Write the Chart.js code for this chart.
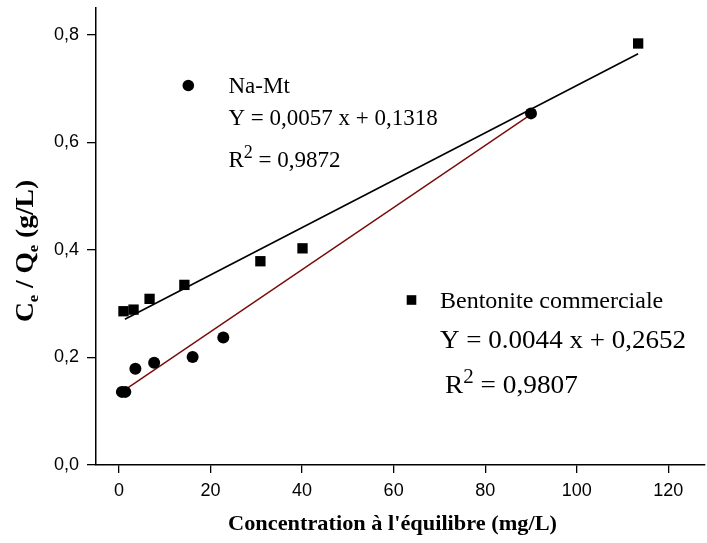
<!DOCTYPE html>
<html>
<head>
<meta charset="utf-8">
<script src="https://cdn.jsdelivr.net/npm/chart.js@4.4.1/dist/chart.umd.min.js"></script>
<style>
  html, body { margin: 0; padding: 0; background: #ffffff; overflow: hidden; }
  #wrap { width: 707px; height: 543px; position: relative; overflow: hidden; }
  #c { display: block; }
</style>
</head>
<body>
<div id="wrap"><canvas id="c"></canvas></div>
<script>
// ---- data ----
const naMtX = [0.65, 1.4, 3.6, 7.7, 16.1, 22.8, 90.0];
const naMtY = [0.136, 0.136, 0.179, 0.190, 0.201, 0.237, 0.654];
const bentX = [1.0, 3.2, 6.7, 14.3, 30.9, 40.1, 113.4];
const bentY = [0.286, 0.289, 0.309, 0.335, 0.379, 0.403, 0.784];
const naMtFitX = [0.65, 90.0];
const naMtFitY = [0.136, 0.652];
const bentFitX = [1.3, 113.4];
const bentFitY = [0.271, 0.765];
const xTicks = [0, 20, 40, 60, 80, 100, 120];
const yTicks = [0.0, 0.2, 0.4, 0.6, 0.8];

const xTitle = "Concentration à l'équilibre (mg/L)";
const naMtLabel = "Na-Mt";
const naMtEq = "Y = 0,0057 x + 0,1318";
const naMtR2 = "0,9872";
const bentLabel = "Bentonite commerciale";
const bentEq = "Y = 0.0044 x + 0,2652";
const bentR2 = "0,9807";

const zip = (xs, ys) => xs.map((x, i) => ({ x: x, y: ys[i] }));

const SERIF = '"Liberation Serif", "Times New Roman", serif';
const SANS = '"Liberation Sans", Arial, sans-serif';

function drawRich(ctx, parts, x, y, sx) {
  ctx.save();
  ctx.translate(x, y);
  ctx.scale(sx || 1, 1);
  let cx = 0;
  parts.forEach(p => {
    ctx.font = (p.bold ? 'bold ' : '') + p.size + 'px ' + SERIF;
    ctx.fillText(p.t, cx, p.dy || 0);
    cx += ctx.measureText(p.t).width;
  });
  ctx.restore();
}
function richWidth(ctx, parts) {
  let w = 0;
  parts.forEach(p => {
    ctx.font = (p.bold ? 'bold ' : '') + p.size + 'px ' + SERIF;
    w += ctx.measureText(p.t).width;
  });
  return w;
}

const annot = {
  id: 'annot',
  beforeDraw(chart) {
    const ctx = chart.ctx;
    ctx.save();
    ctx.fillStyle = '#ffffff';
    ctx.fillRect(0, 0, chart.width, chart.height);
    ctx.restore();
  },
  afterDraw(chart) {
    const ctx = chart.ctx;
    ctx.save();
    ctx.fillStyle = '#000';
    ctx.textBaseline = 'alphabetic';
    ctx.textAlign = 'left';

    // x axis title
    const xp = [{ t: xTitle, size: 22, bold: true }];
    const xw = richWidth(ctx, xp) * 1.015;
    drawRich(ctx, xp, 392.5 - xw / 2, 530, 1.015);

    // y axis title (rotated)
    const yp = [
      { t: 'C', size: 25, bold: true },
      { t: 'e', size: 15, bold: true, dy: 5 },
      { t: ' / Q', size: 25, bold: true },
      { t: 'e', size: 15, bold: true, dy: 5 },
      { t: ' (g/L)', size: 25, bold: true }
    ];
    const ysx = 1.1;
    const yw = richWidth(ctx, yp) * ysx;
    ctx.save();
    ctx.translate(33, 251);
    ctx.rotate(-Math.PI / 2);
    drawRich(ctx, yp, -yw / 2, 0, ysx);
    ctx.restore();

    // Na-Mt block
    ctx.beginPath();
    ctx.arc(188.3, 85.5, 5.8, 0, Math.PI * 2);
    ctx.fill();
    drawRich(ctx, [{ t: naMtLabel, size: 23 }], 228.5, 93);
    drawRich(ctx, [{ t: naMtEq, size: 23 }], 228.5, 124.5);
    drawRich(ctx, [
      { t: 'R', size: 23 },
      { t: '2', size: 18, dy: -9.5 },
      { t: ' = ' + naMtR2, size: 23 }
    ], 228.5, 167);

    // Bentonite block
    ctx.fillRect(411.5 - 4.8, 300 - 4.8, 9.6, 9.6);
    drawRich(ctx, [{ t: bentLabel, size: 24 }], 440, 308);
    drawRich(ctx, [{ t: bentEq, size: 26 }], 440, 348, 1.04);
    drawRich(ctx, [
      { t: 'R', size: 26 },
      { t: '2', size: 20, dy: -10 },
      { t: ' = ' + bentR2, size: 26 }
    ], 445, 393, 1.05);
    ctx.restore();
  }
};

new Chart(document.getElementById('c'), {
  type: 'scatter',
  data: {
    datasets: [
      {
        label: naMtLabel + ' fit',
        type: 'line',
        data: zip(naMtFitX, naMtFitY),
        borderColor: '#7a0a0a',
        borderWidth: 1.4,
        pointRadius: 0,
        fill: false,
        order: 3
      },
      {
        label: bentLabel + ' fit',
        type: 'line',
        data: zip(bentFitX, bentFitY),
        borderColor: '#000000',
        borderWidth: 1.6,
        pointRadius: 0,
        fill: false,
        order: 3
      },
      {
        label: naMtLabel,
        data: zip(naMtX, naMtY),
        pointStyle: 'circle',
        pointRadius: 6,
        backgroundColor: '#000',
        borderColor: '#000',
        borderWidth: 0,
        order: 1
      },
      {
        label: bentLabel,
        data: zip(bentX, bentY),
        pointStyle: 'rect',
        pointRadius: 7.3,
        backgroundColor: '#000',
        borderColor: '#000',
        borderWidth: 0,
        order: 1
      }
    ]
  },
  options: {
    responsive: true,
    maintainAspectRatio: false,
    animation: false,
    layout: { autoPadding: false, padding: { top: 8, right: 2, left: 0, bottom: 0 } },
    plugins: { legend: { display: false }, tooltip: { enabled: false } },
    scales: {
      x: {
        type: 'linear',
        min: -5,
        max: 128,
        afterBuildTicks: s => { s.ticks = xTicks.map(v => ({ value: v })); },
        afterFit: s => { s.height = 78; s.paddingLeft = 0; s.paddingRight = 0; },
        border: { display: true, color: '#000', width: 1.5 },
        grid: { display: true, drawOnChartArea: false, drawTicks: true, tickLength: 8, color: '#000', lineWidth: 1.3 },
        ticks: { color: '#000', font: { family: SANS, size: 18 }, padding: 7, maxRotation: 0, callback: v => String(v) }
      },
      y: {
        type: 'linear',
        min: 0,
        max: 0.85,
        afterBuildTicks: s => { s.ticks = yTicks.map(v => ({ value: v })); },
        afterFit: s => { s.width = 96; s.paddingTop = 0; s.paddingBottom = 0; },
        border: { display: true, color: '#000', width: 1.5 },
        grid: { display: true, drawOnChartArea: false, drawTicks: true, tickLength: 9, color: '#000', lineWidth: 1.3 },
        ticks: { color: '#000', font: { family: SANS, size: 18 }, padding: 8, callback: v => v.toFixed(1).replace('.', ',') }
      }
    }
  },
  plugins: [annot]
});
</script>
</body>
</html>
